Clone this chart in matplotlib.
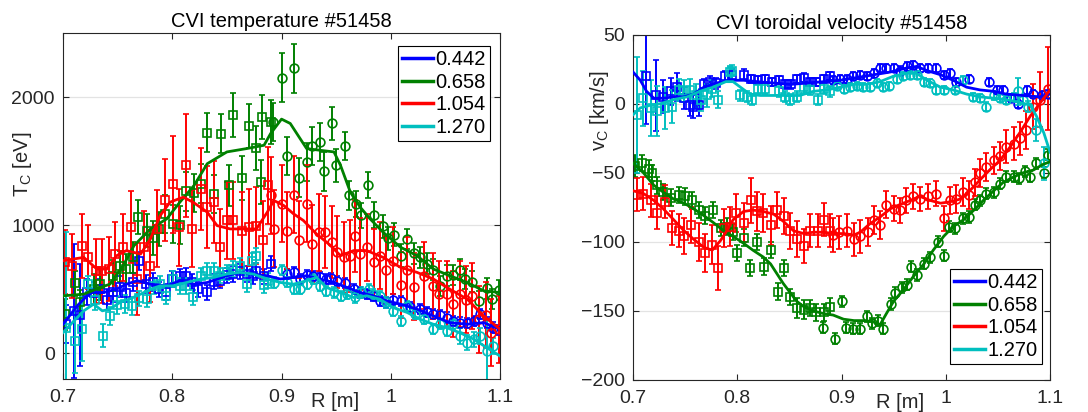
import matplotlib
matplotlib.use("Agg")
import matplotlib.pyplot as plt
import numpy as np

plt.rcParams['font.family'] = ['Liberation Sans', 'DejaVu Sans']

# ---------------- data: left panel (CVI temperature, eV) ----------------
labels = ["0.442", "0.658", "1.054", "1.270"]
colors = ["#0000ff", "#008000", "#ff0000", "#00bfbf"]

# blue 0.442
T_b_sq_R = [.703, .710, .716, .722, .728, .734, .740, .746, .752, .758, .764, .770, .776, .782, .788, .794, .800, .807, .813, .818, .824, .832, .838, .844, .850, .856, .862, .868, .874, .877, .884, .890]
T_b_sq_V = [230, 330, 300, 480, 470, 500, 420, 480, 520, 470, 560, 720, 540, 560, 500, 480, 580, 600, 606, 560, 500, 475, 560, 567, 610, 620, 640, 620, 600, 645, 600, 700]
T_b_sq_E = [150, 520, 400, 100, 90, 80, 80, 80, 80, 70, 70, 70, 70, 70, 60, 60, 60, 60, 60, 60, 60, 60, 60, 60, 60, 60, 60, 60, 60, 60, 60, 60]
T_b_ci_R = [.905, .911, .917, .923, .929, .935, .941, .945, .951, .958, .966, .972, .978, .984, .990, .996, 1.002, 1.009, 1.018, 1.027, 1.033, 1.039, 1.045, 1.051, 1.057, 1.063, 1.070, 1.076, 1.082, 1.088, 1.094, 1.099]
T_b_ci_V = [620, 632, 580, 611, 606, 593, 580, 585, 567, 548, 501, 475, 462, 449, 410, 397, 420, 410, 358, 345, 320, 305, 300, 279, 253, 240, 235, 253, 305, 240, 201, 180]
T_b_ci_E = [40] * 32
T_b_fit_R = [.700, .713, .725, .737, .749, .758, .768, .780, .795, .807, .820, .832, .850, .862, .874, .887, .899, .911, .923, .935, .948, .960, .972, .984, .996, 1.009, 1.024, 1.039, 1.054, 1.070, 1.085, 1.100]
T_b_fit_V = [227, 371, 475, 475, 501, 540, 567, 540, 527, 567, 540, 553, 606, 632, 619, 606, 580, 593, 606, 580, 553, 514, 475, 449, 410, 384, 345, 292, 240, 227, 240, 188]

# green 0.658
T_g_sq_R = [.702, .711, .716, .728, .734, .746, .752, .758, .764, .769, .777, .782, .788, .793, .801, .807, .813, .820, .826, .832, .838, .845, .852, .856, .864, .870, .877, .881, .882, .890]
T_g_sq_V = [305, 546, 397, 500, 540, 606, 680, 658, 749, 1063, 958, 900, 971, 1089, 1010, 1000, 1264, 1250, 1324, 1723, 1245, 1715, 1311, 1859, 1368, 1775, 1603, 1337, 1846, 1807]
T_g_sq_E = [120, 100, 100, 120, 120, 120, 120, 120, 120, 130, 130, 130, 130, 150, 150, 150, 150, 150, 150, 150, 150, 150, 160, 170, 170, 170, 170, 170, 170, 170]
T_g_ci_R = [.892, .900, .905, .911, .916, .923, .928, .935, .939, .946, .950, .958, .962, .968, .973, .979, .985, .993, .997, 1.003, 1.009, 1.015, 1.021, 1.027, 1.033, 1.039, 1.045, 1.051, 1.057, 1.063, 1.068, 1.074, 1.081, 1.088, 1.093, 1.099]
T_g_ci_V = [1807, 2151, 1540, 2225, 1371, 1493, 1619, 1650, 1420, 1794, 1467, 1619, 1232, 1167, 1076, 1316, 1081, 992, 900, 924, 762, 893, 780, 749, 700, 653, 527, 606, 611, 653, 580, 559, 410, 507, 423, 496]
T_g_ci_E = [150, 190, 150, 190, 150, 150, 150, 150, 150, 130, 130, 110, 110, 100, 100, 100, 100, 90, 90, 90, 90, 80, 80, 80, 80, 80, 80, 80, 80, 80, 80, 80, 80, 80, 80, 80]
T_g_fit_R = [.700, .719, .734, .743, .755, .765, .780, .795, .807, .820, .832, .850, .868, .884, .890, .900, .908, .917, .923, .935, .948, .954, .963, .972, .981, .993, 1.009, 1.024, 1.039, 1.054, 1.070, 1.085, 1.100]
T_g_fit_V = [449, 462, 514, 540, 684, 841, 971, 1050, 1180, 1311, 1480, 1572, 1598, 1624, 1715, 1828, 1794, 1676, 1598, 1585, 1572, 1467, 1258, 1141, 1050, 945, 828, 762, 658, 606, 553, 488, 475]

# red 1.054
T_r_sq_R = [.702, .708, .717, .723, .730, .736, .742, .748, .755, .762, .768, .774, .780, .786, .793, .801, .806, .813, .818, .826, .832, .838, .844, .850, .856, .864, .870, .877, .883, .888]
T_r_sq_V = [710, 684, 841, 749, 645, 645, 658, 775, 828, 984, 580, 828, 684, 971, 1193, 1318, 984, 1467, 971, 1285, 1141, 1180, 828, 1037, 1037, 958, 984, 997, 888, 1311]
T_r_sq_E = [250, 250, 250, 250, 250, 250, 250, 250, 260, 280, 280, 280, 280, 300, 320, 380, 300, 400, 300, 320, 320, 320, 300, 300, 300, 300, 300, 300, 300, 300]
T_r_ci_R = [.890, .893, .900, .905, .911, .916, .923, .928, .934, .940, .946, .951, .957, .963, .967, .972, .978, .985, .990, .996, 1.002, 1.009, 1.015, 1.021, 1.030, 1.039, 1.044, 1.051, 1.057, 1.063, 1.069, 1.074, 1.081, 1.087, 1.092, 1.099]
T_r_ci_V = [1232, 971, 1167, 958, 1238, 888, 1167, 854, 945, 945, 867, 789, 749, 762, 914, 775, 828, 710, 762, 653, 723, 533, 650, 520, 606, 527, 462, 462, 384, 462, 420, 449, 266, 300, 162, 188]
T_r_ci_E = [300, 300, 300, 300, 300, 300, 300, 300, 300, 280, 280, 280, 280, 280, 280, 280, 260, 260, 260, 260, 260, 260, 260, 260, 260, 260, 260, 260, 260, 260, 260, 260, 260, 260, 260, 260]
T_r_fit_R = [.700, .719, .731, .740, .749, .758, .771, .780, .789, .798, .810, .819, .832, .841, .853, .865, .877, .887, .893, .902, .911, .920, .932, .945, .954, .966, .978, .993, 1.009, 1.024, 1.039, 1.054, 1.070, 1.085, 1.100]
T_r_fit_V = [723, 749, 658, 658, 762, 802, 775, 893, 1076, 1180, 1219, 1180, 1102, 997, 971, 971, 971, 1102, 1193, 1154, 1089, 1037, 932, 841, 762, 802, 802, 749, 671, 632, 580, 501, 423, 292, 188]

# cyan 1.270
T_c_sq_R = [.703, .711, .717, .723, .729, .737, .743, .749, .757, .763, .770, .777, .783, .789, .794, .801, .807, .813, .819, .826, .832, .838, .844, .850, .856, .862, .868, .873, .877, .884, .888]
T_c_sq_V = [200, 97, 188, 540, 420, 136, 292, 380, 384, 371, 430, 423, 527, 540, 449, 580, 527, 527, 436, 606, 645, 645, 606, 632, 658, 684, 540, 720, 762, 533, 567]
T_c_sq_E = [750, 250, 250, 60, 80, 90, 70, 70, 70, 70, 60, 60, 60, 60, 60, 60, 60, 60, 60, 60, 60, 60, 60, 60, 60, 60, 60, 60, 60, 60, 60]
T_c_ci_R = [.893, .900, .905, .911, .917, .923, .929, .935, .941, .948, .954, .960, .967, .973, .980, .984, .990, .996, 1.002, 1.009, 1.015, 1.022, 1.030, 1.039, 1.045, 1.051, 1.057, 1.063, 1.070, 1.076, 1.082, 1.088, 1.094]
T_c_ci_V = [553, 653, 559, 501, 501, 540, 580, 527, 488, 475, 449, 462, 436, 475, 501, 462, 449, 397, 332, 253, 371, 305, 266, 188, 227, 175, 227, 136, 84, 110, 136, 18, 57]
T_c_ci_E = [40] * 27 + [60, 60, 60, 60, 250, 60]
T_c_fit_R = [.700, .710, .719, .728, .736, .743, .752, .762, .771, .780, .789, .801, .813, .826, .838, .850, .862, .874, .887, .899, .911, .923, .932, .941, .954, .966, .978, .990, 1.002, 1.015, 1.027, 1.039, 1.051, 1.063, 1.076, 1.088, 1.100]
T_c_fit_V = [162, 253, 332, 384, 332, 345, 397, 428, 462, 501, 527, 527, 553, 580, 593, 619, 632, 619, 580, 553, 540, 567, 593, 514, 475, 436, 449, 423, 358, 319, 266, 227, 201, 162, 110, 44, -21]

# ---------------- data: right panel (CVI toroidal velocity, km/s) ----------------
# blue 0.442
V_b_sq_R = [.712, .722, .729, .736, .742, .749, .755, .758, .763, .768, .774, .780, .788, .795, .806, .813, .820, .827, .833, .840, .846, .852, .857, .864, .870, .876, .883, .889]
V_b_sq_V = [20, 6, 5, 9, 12, 4, -1, -2, -1, 14, 16, 15, 20, 21, 21, 18, 17, 18, 16, 17, 14, 14, 18, 19, 16, 16, 18, 20]
V_b_sq_E = [35, 26, 12, 10, 10, 8, 8, 8, 8, 4, 4, 4, 4, 4, 4, 3, 3, 3, 3, 3, 3, 3, 3, 3, 3, 3, 3, 3]
V_b_ci_R = [.892, .899, .905, .911, .918, .924, .931, .937, .943, .950, .956, .963, .969, .975, .983, .991, .998, 1.004, 1.010, 1.022, 1.041, 1.049, 1.055, 1.063, 1.069, 1.078, 1.084, 1.092, 1.098]
V_b_ci_V = [17, 18, 18, 20, 21, 20, 22, 26, 26, 26, 24, 27, 28, 26, 26, 26, 21, 22, 16, 18, 16, 10, 10, 4, 0, 10, 7, 6, 7]
V_b_ci_E = [3] * 29
V_b_fit_R = [.700, .707, .713, .720, .729, .739, .749, .758, .768, .780, .793, .806, .819, .835, .851, .867, .883, .899, .915, .931, .947, .963, .972, .982, .995, 1.007, 1.020, 1.033, 1.046, 1.058, 1.074, 1.090, 1.100]
V_b_fit_V = [23, 17, 9, 4, 4, 5, 5, 7, 12, 15, 17, 17, 16, 15, 14, 15, 16, 17, 19, 21, 23, 26, 27, 24, 21, 17, 12, 10, 9, 7, 6, 5, 7]

# green 0.658
V_g_sq_R = [.702, .709, .715, .718, .723, .729, .736, .744, .750, .757, .763, .769, .777, .784, .790, .796, .800, .806, .812, .819, .826, .832, .839, .845, .851, .857, .864, .870, .876, .883, .889]
V_g_sq_V = [-45, -43, -47, -50, -59, -64, -68, -66, -67, -70, -77, -81, -77, -90, -89, -93, -108, -97, -119, -100, -118, -106, -136, -119, -140, -148, -149, -148, -151, -151, -147]
V_g_sq_E = [8, 6, 6, 6, 6, 6, 6, 6, 6, 6, 6, 6, 6, 6, 6, 6, 6, 6, 6, 6, 6, 6, 6, 6, 6, 7, 7, 6, 6, 6, 6]
V_g_ci_R = [.882, .894, .900, .904, .911, .918, .924, .929, .935, .940, .947, .951, .958, .963, .967, .972, .979, .985, .993, .998, 1.003, 1.009, 1.017, 1.022, 1.028, 1.033, 1.039, 1.046, 1.052, 1.058, 1.065, 1.070, 1.076, 1.081, 1.087, 1.094, 1.098]
V_g_ci_V = [-162, -170, -143, -162, -163, -163, -154, -159, -157, -163, -145, -137, -133, -131, -118, -124, -116, -111, -100, -110, -89, -90, -83, -82, -73, -70, -65, -64, -58, -53, -53, -54, -49, -53, -43, -50, -37]
V_g_ci_E = [4] * 37
V_g_fit_R = [.700, .710, .720, .729, .739, .749, .758, .768, .777, .787, .796, .806, .815, .825, .832, .838, .844, .851, .857, .864, .873, .883, .892, .902, .912, .921, .931, .937, .943, .950, .959, .969, .979, .988, .998, 1.007, 1.017, 1.027, 1.036, 1.046, 1.055, 1.065, 1.074, 1.084, 1.093, 1.100]
V_g_fit_V = [-43, -50, -59, -64, -69, -72, -76, -81, -86, -92, -96, -101, -106, -111, -116, -123, -130, -137, -143, -147, -150, -152, -153, -156, -157, -157, -158, -160, -152, -143, -135, -125, -116, -106, -96, -89, -84, -77, -70, -63, -57, -53, -50, -48, -44, -42]

# red 1.054
V_r_sq_R = [.704, .710, .717, .723, .731, .737, .744, .749, .756, .763, .769, .776, .782, .787, .793, .799, .806, .813, .819, .825, .832, .838, .845, .851, .857, .864, .870, .877, .883, .889]
V_r_sq_V = [-66, -65, -70, -79, -71, -90, -92, -96, -88, -100, -108, -102, -119, -90, -89, -79, -86, -70, -78, -79, -88, -77, -81, -92, -98, -103, -92, -92, -84, -92]
V_r_sq_E = [12, 12, 12, 12, 12, 12, 12, 13, 13, 14, 14, 14, 16, 14, 14, 14, 14, 16, 14, 14, 14, 13, 13, 13, 13, 12, 12, 12, 12, 12]
V_r_ci_R = [.892, .898, .905, .912, .918, .925, .931, .937, .943, .950, .956, .962, .969, .975, .983, .991, .998, 1.004, 1.010, 1.017, 1.022, 1.028, 1.033, 1.039, 1.046, 1.052, 1.058, 1.065, 1.071, 1.077, 1.084, 1.090, 1.098]
V_r_ci_V = [-95, -93, -92, -98, -96, -93, -84, -88, -73, -76, -77, -70, -67, -69, -67, -65, -83, -70, -69, -64, -66, -57, -50, -46, -41, -38, -31, -29, -25, -19, -2, 3, 11]
V_r_ci_E = [12, 12, 12, 12, 12, 10, 10, 10, 10, 9, 9, 9, 9, 9, 9, 9, 9, 10, 10, 10, 10, 10, 10, 10, 10, 10, 12, 12, 12, 14, 16, 20, 30]
V_r_fit_R = [.700, .710, .720, .729, .739, .749, .758, .768, .776, .784, .790, .796, .806, .815, .825, .835, .844, .854, .864, .873, .883, .892, .902, .912, .918, .927, .937, .947, .956, .966, .975, .985, .995, 1.004, 1.014, 1.023, 1.033, 1.042, 1.052, 1.062, 1.071, 1.081, 1.090, 1.100]
V_r_fit_V = [-63, -65, -70, -76, -84, -92, -98, -104, -106, -99, -92, -84, -78, -77, -78, -80, -85, -92, -94, -93, -93, -94, -94, -95, -93, -87, -82, -76, -73, -70, -67, -70, -72, -71, -69, -63, -55, -48, -41, -31, -21, -9, 0, 10]

# cyan 1.270
V_c_sq_R = [.704, .710, .717, .723, .731, .737, .744, .749, .755, .760, .765, .771, .776, .782, .793, .795, .803, .809, .814, .820, .827, .840, .846, .851, .857, .864, .870, .877, .883, .889]
V_c_sq_V = [-8, 4, -3, -5, -3, -2, 10, 9, 10, 6, 3, 6, 11, 3, 23, 24, 6, 5, 3, 11, 11, 9, 5, 3, 5, 12, 10, 3, 11, 9]
V_c_sq_E = [42, 20, 20, 18, 15, 12, 8, 8, 8, 8, 8, 8, 6, 6, 4, 4, 4, 4, 4, 4, 4, 4, 4, 4, 4, 4, 4, 4, 4, 4]
V_c_ci_R = [.896, .902, .908, .915, .921, .927, .934, .940, .946, .953, .959, .966, .972, .979, .985, .991, .998, 1.009, 1.017, 1.026, 1.033, 1.039, 1.046, 1.052, 1.058, 1.065, 1.069, 1.074, 1.079, 1.087, 1.094]
V_c_ci_V = [13, 11, 12, 13, 12, 12, 15, 12, 13, 18, 20, 21, 21, 16, 15, 10, 10, 10, 17, 5, 4, -2, 6, 4, 3, 5, 9, 3, -2, -19, -43]
V_c_ci_E = [3] * 26 + [10, 3, 4, 8, 12]
V_c_fit_R = [.700, .707, .717, .726, .739, .752, .764, .777, .789, .796, .803, .812, .822, .835, .848, .860, .873, .886, .899, .912, .924, .937, .950, .963, .972, .982, .995, 1.007, 1.020, 1.033, 1.046, 1.058, 1.071, 1.081, 1.087, 1.094, 1.100]
V_c_fit_V = [-8, -3, -1, 0, 3, 5, 9, 12, 16, 16, 12, 7, 6, 6, 6, 6, 9, 10, 12, 14, 14, 16, 20, 22, 22, 17, 12, 10, 7, 5, 4, 3, 1, -1, -9, -21, -35]

left_series = [
    (T_b_sq_R, T_b_sq_V, T_b_sq_E, T_b_ci_R, T_b_ci_V, T_b_ci_E, T_b_fit_R, T_b_fit_V),
    (T_g_sq_R, T_g_sq_V, T_g_sq_E, T_g_ci_R, T_g_ci_V, T_g_ci_E, T_g_fit_R, T_g_fit_V),
    (T_r_sq_R, T_r_sq_V, T_r_sq_E, T_r_ci_R, T_r_ci_V, T_r_ci_E, T_r_fit_R, T_r_fit_V),
    (T_c_sq_R, T_c_sq_V, T_c_sq_E, T_c_ci_R, T_c_ci_V, T_c_ci_E, T_c_fit_R, T_c_fit_V),
]
right_series = [
    (V_b_sq_R, V_b_sq_V, V_b_sq_E, V_b_ci_R, V_b_ci_V, V_b_ci_E, V_b_fit_R, V_b_fit_V),
    (V_g_sq_R, V_g_sq_V, V_g_sq_E, V_g_ci_R, V_g_ci_V, V_g_ci_E, V_g_fit_R, V_g_fit_V),
    (V_r_sq_R, V_r_sq_V, V_r_sq_E, V_r_ci_R, V_r_ci_V, V_r_ci_E, V_r_fit_R, V_r_fit_V),
    (V_c_sq_R, V_c_sq_V, V_c_sq_E, V_c_ci_R, V_c_ci_V, V_c_ci_E, V_c_fit_R, V_c_fit_V),
]

x_ticks = [0.7, 0.8, 0.9, 1.0, 1.1]
x_ticklabels = ["0.7", "0.8", "0.9", "1", "1.1"]

fig = plt.figure(figsize=(10.88, 4.12), dpi=100)
axL = fig.add_axes([0.0579, 0.0801, 0.4017, 0.8398])
axR = fig.add_axes([0.5818, 0.0777, 0.3833, 0.8381])

dark = '#262626'


def draw(ax, series):
    handles = []
    for (sqR, sqV, sqE, ciR, ciV, ciE, fR, fV), col, lab in zip(series, colors, labels):
        ax.errorbar(sqR, sqV, yerr=sqE, fmt='s', ms=5.8, mfc='none', mec=col, mew=1.2,
                    ecolor=col, elinewidth=1.4, capsize=2.3, capthick=1.3, zorder=2)
        ax.errorbar(ciR, ciV, yerr=ciE, fmt='o', ms=6.3, mfc='none', mec=col, mew=1.2,
                    ecolor=col, elinewidth=1.4, capsize=2.3, capthick=1.3, zorder=2)
        h, = ax.plot(fR, fV, '-', color=col, lw=2.0, label=lab, zorder=3)
        handles.append(h)
    ax.set_xlim(0.7, 1.1)
    ax.set_xticks(x_ticks)
    ax.set_xticklabels(x_ticklabels)
    ax.tick_params(direction='in', top=True, right=True, length=4, width=0.8,
                   labelsize=14, colors=dark, labelcolor=dark)
    ax.tick_params(axis='x', pad=7)
    ax.tick_params(axis='y', pad=6)
    ax.yaxis.grid(True, color='#e3e3e3', lw=0.9)
    ax.set_axisbelow(True)
    for s in ax.spines.values():
        s.set_color(dark)
        s.set_linewidth(0.8)
    return handles


hL = draw(axL, left_series)
axL.set_ylim(-200, 2500)
axL.set_yticks([0, 1000, 2000])
axL.set_title("CVI temperature #51458", fontsize=14.5, color='black', pad=4)
axL.set_ylabel(r"T$_\mathregular{C}$ [eV]", fontsize=14.5, color=dark)
axL.yaxis.set_label_coords(-0.066, 0.62)
axL.set_xlabel("R [m]", fontsize=14.5, color=dark)
axL.xaxis.set_label_coords(0.622, -0.038)
legL = axL.legend(handles=hL, loc='upper right', bbox_to_anchor=(0.977, 0.962),
                  fontsize=14.5, handlelength=1.5, handletextpad=0.15, borderpad=0.2,
                  labelspacing=0.18, fancybox=False, framealpha=1, edgecolor='black',
                  borderaxespad=0)
legL.get_frame().set_linewidth(0.8)
for l in legL.get_lines():
    l.set_linewidth(2.5)

hR = draw(axR, right_series)
axR.set_ylim(-200, 50)
axR.set_yticks([-200, -150, -100, -50, 0, 50])
axR.set_title("CVI toroidal velocity #51458", fontsize=14.5, color='black', pad=4)
axR.set_ylabel(r"v$_\mathregular{C}$ [km/s]", fontsize=14.5, color=dark)
axR.yaxis.set_label_coords(-0.052, 0.78)
axR.set_xlabel("R [m]", fontsize=14.5, color=dark)
axR.xaxis.set_label_coords(0.64, -0.038)
legR = axR.legend(handles=hR, loc='lower right', bbox_to_anchor=(0.981, 0.046),
                  fontsize=14.5, handlelength=1.5, handletextpad=0.15, borderpad=0.2,
                  labelspacing=0.18, fancybox=False, framealpha=1, edgecolor='black',
                  borderaxespad=0)
legR.get_frame().set_linewidth(0.8)
for l in legR.get_lines():
    l.set_linewidth(2.5)

fig.savefig("out.png", dpi=100)
